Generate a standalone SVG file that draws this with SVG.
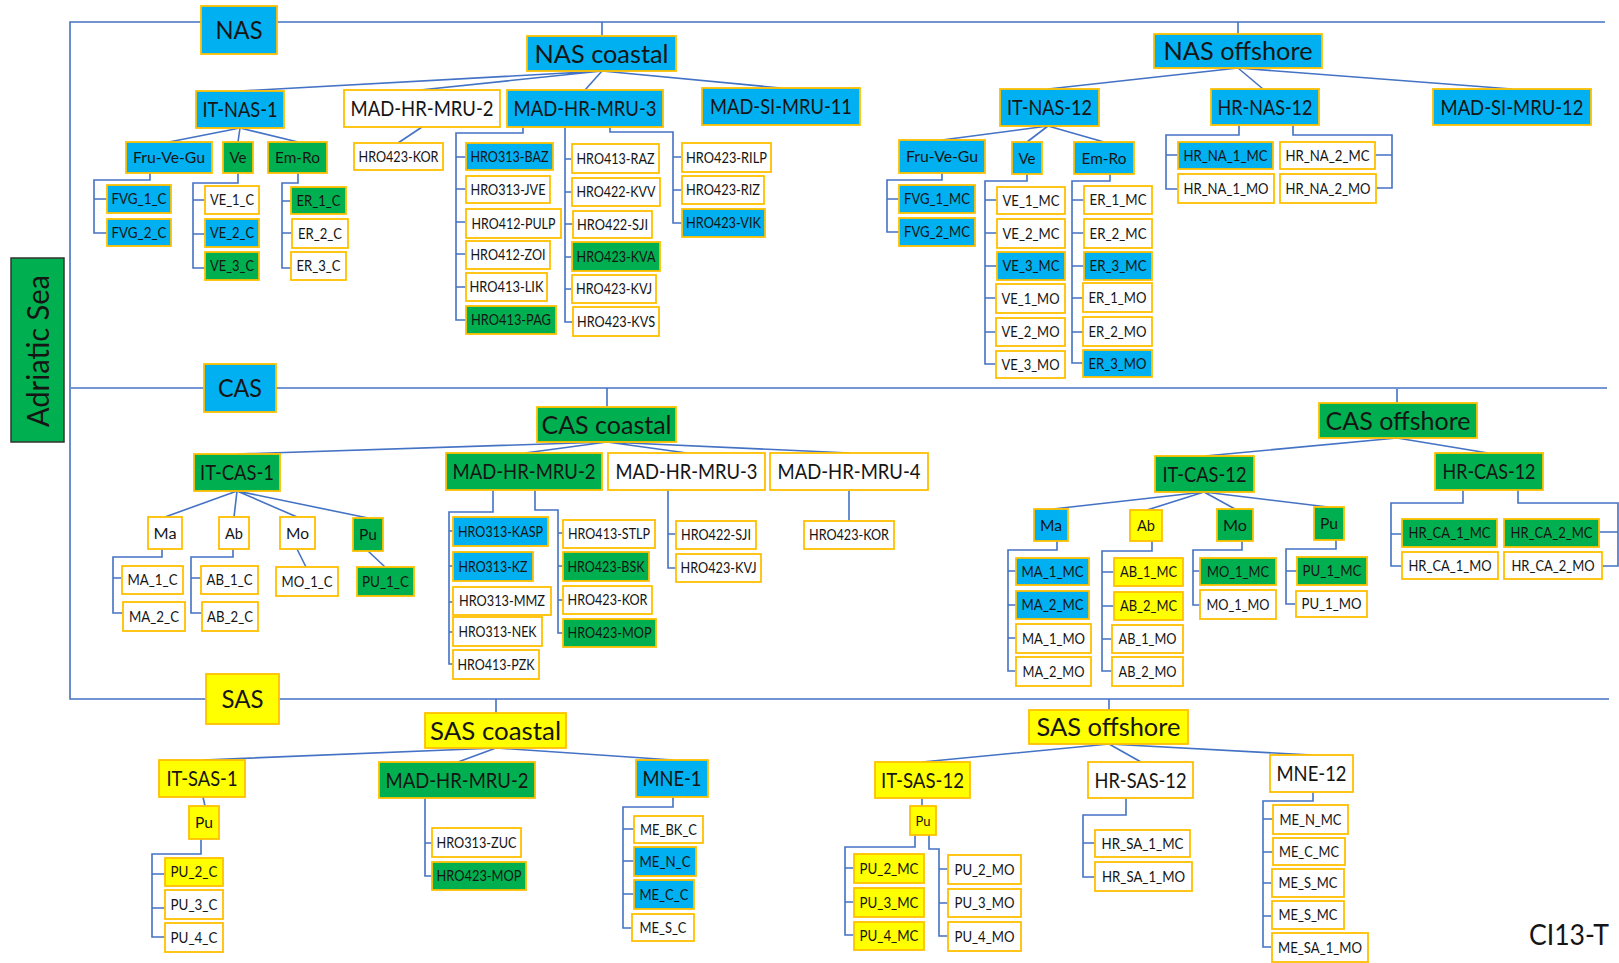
<svg xmlns="http://www.w3.org/2000/svg" width="1619" height="963" viewBox="0 0 1619 963">
<style>
  rect { stroke: #FFC000; stroke-width: 1.8; }
  .b { fill: #00B0F0; }
  .g { fill: #00B050; }
  .y { fill: #FFFF00; }
  .w { fill: #FFFFFF; }
  text { font-family: Lato, "Liberation Sans", sans-serif; fill: #151515; text-anchor: middle; }
  .s1 { font-size: 25px; }
  .s2 { font-size: 21px; }
  .s3 { font-size: 15.5px; }
  .s3s { font-size: 14px; }
  .s4 { font-size: 14.5px; }
  #connectors path, #connectors line { stroke: #4472C4; stroke-width: 1.6; fill: none; }
</style>
<rect x="0" y="0" width="1619" height="963" style="fill:#fff;stroke:none"/>

<g id="connectors">
  <!-- main spine and region bars -->
  <path d="M1605,22 H70 V699 H1609"/>
  <path d="M71,388 H1607"/>
  <!-- region bars to coastal/offshore -->
  <path d="M602,22 V36 M1238,22 V34 M607,388 V407 M1397,389 V403 M496,699 V713 M1109,699 V710"/>
  <!-- NAS coastal fan -->
  <path d="M602,71 L240,91 M602,71 L420,90 M602,71 L585,90 M602,71 L781,88"/>
  <!-- NAS offshore fan -->
  <path d="M1238,68 L1048,89 M1238,68 L1263,89 M1238,68 L1512,89"/>
  <!-- IT-NAS-1 -->
  <path d="M240,128 L169,142 M240,128 L238,142 M240,128 L298,142"/>
  <path d="M150,173 V180 H94 V233 H107 M94,199 H107"/>
  <path d="M238,173 V183 H193 V268 H205 M193,200 H205 M193,234 H205"/>
  <path d="M298,173 V183 H282 V268 H291 M282,201 H291 M282,233 H292"/>
  <!-- MAD-HR-MRU-2 (NAS) -->
  <path d="M422,127 L398,143"/>
  <!-- MAD-HR-MRU-3 (NAS) -->
  <path d="M523,127 V133 H456 V320 H466 M456,157 H466 M456,189 H466 M456,222 H466 M456,254 H466 M456,287 H466"/>
  <path d="M565,127 V322 H573 M565,159 H572 M565,192 H572 M565,224 H573 M565,257 H572 M565,289 H572"/>
  <path d="M610,127 V132 H673 V223 H682 M673,157 H682 M673,190 H682"/>
  <!-- IT-NAS-12 -->
  <path d="M1048,126 L942,140 M1048,126 L1027,142 M1048,126 L1104,142"/>
  <path d="M942,173 V180 H887 V232 H899 M887,199 H899"/>
  <path d="M1027,174 V181 H985 V364 H996 M985,200 H997 M985,233 H997 M985,266 H997 M985,298 H996 M985,332 H996"/>
  <path d="M1110,174 V181 H1072 V363 H1083 M1072,200 H1084 M1072,233 H1084 M1072,266 H1084 M1072,298 H1083 M1072,332 H1083"/>
  <!-- HR-NAS-12 -->
  <path d="M1239,125 V135 H1166 V189 H1178 M1166,155 H1178"/>
  <path d="M1293,125 V135 H1392 V188 H1376 M1392,155 H1375"/>
  <!-- CAS coastal fan -->
  <path d="M607,442 L237,454 M607,442 L525,453 M607,442 L687,453 M607,442 L850,453"/>
  <!-- CAS offshore fan -->
  <path d="M1397,438 L1205,456 M1397,438 L1488,453"/>
  <!-- IT-CAS-1 -->
  <path d="M237,491 L165,517 M237,491 L234,517 M237,491 L297,517 M237,491 L368,518"/>
  <path d="M162,549 V557 H113 V613 H123 M113,578 H122"/>
  <path d="M233,549 V557 H191 V613 H202 M191,578 H201"/>
  <path d="M297,549 L306,567 M368,551 L385,567"/>
  <!-- MAD-HR-MRU-2 (CAS) -->
  <path d="M493,490 V512 H449 V664 H453 M449,531 H453 M449,566 H453 M449,602 H453 M449,632 H453"/>
  <path d="M535,490 V510 H558 V633 H563 M558,533 H563 M558,566 H563 M558,600 H563"/>
  <!-- MAD-HR-MRU-3 / MRU-4 (CAS) -->
  <path d="M668,490 V568 H676 M668,534 H676"/>
  <path d="M849,490 V521"/>
  <!-- IT-CAS-12 -->
  <path d="M1204,492 L1053,509 M1204,492 L1147,510 M1204,492 L1235,509 M1204,492 L1328,507"/>
  <path d="M1057,541 V550 H1008 V671 H1016 M1008,571 H1016 M1008,605 H1016 M1008,638 H1016"/>
  <path d="M1152,541 V551 H1102 V671 H1112 M1102,572 H1114 M1102,606 H1114 M1102,639 H1112"/>
  <path d="M1242,541 V550 H1193 V605 H1200 M1193,571 H1200"/>
  <path d="M1336,540 V549 H1286 V604 H1296 M1286,571 H1297"/>
  <!-- HR-CAS-12 -->
  <path d="M1463,490 V503 H1391 V566 H1402 M1391,534 H1402"/>
  <path d="M1518,490 V503 H1618 V566 H1602 M1618,532 H1599"/>
  <!-- SAS coastal fan -->
  <path d="M496,748 L203,760 M496,748 L458,762 M496,748 L673,760"/>
  <!-- SAS offshore fan -->
  <path d="M1109,744 L922,762 M1109,744 L1141,762 M1109,744 L1312,755"/>
  <!-- IT-SAS-1 -->
  <path d="M203,797 L205,806"/>
  <path d="M201,839 V854 H152 V937 H165 M152,874 H165 M152,908 H165"/>
  <!-- MAD-HR-MRU-2 (SAS) -->
  <path d="M425,798 V876 H432 M425,843 H432"/>
  <!-- MNE-1 -->
  <path d="M673,797 V807 H623 V928 H632 M623,829 H634 M623,861 H634 M623,894 H634"/>
  <!-- IT-SAS-12 -->
  <path d="M922,798 V806"/>
  <path d="M915,835 V847 H845 V935 H854 M845,868 H854 M845,902 H854"/>
  <path d="M929,835 V849 H939 V936 H948 M939,869 H948 M939,903 H948"/>
  <!-- HR-SAS-12 -->
  <path d="M1126,798 V815 H1083 V877 H1095 M1083,843 H1095"/>
  <!-- MNE-12 -->
  <path d="M1313,792 V801 H1263 V947 H1272 M1263,819 H1273 M1263,852 H1273 M1263,883 H1272 M1263,916 H1272"/>
</g>

<!-- root -->
<g id="n-adriatic">
  <rect x="11" y="258" width="53" height="184" style="fill:#00B050;stroke:#333;stroke-width:1.5"/>
  <text class="s1" style="font-size:30px" transform="translate(38,351) rotate(-90)" x="0" y="11" textLength="152" lengthAdjust="spacingAndGlyphs">Adriatic Sea</text>
</g>

<!-- sub-regions -->
<g id="n-nas"><rect class="b" x="201" y="6" width="76" height="48"/><text class="s1" x="239" y="39" textLength="47" lengthAdjust="spacingAndGlyphs">NAS</text></g>
<g id="n-cas"><rect class="b" x="204" y="364" width="72" height="48"/><text class="s1" x="240" y="397" textLength="44" lengthAdjust="spacingAndGlyphs">CAS</text></g>
<g id="n-sas"><rect class="y" x="206" y="674" width="73" height="50"/><text class="s1" x="242.5" y="708" textLength="42" lengthAdjust="spacingAndGlyphs">SAS</text></g>
<g id="n-nas-coastal"><rect class="b" x="527" y="36" width="149" height="35"/><text class="s1" x="601.5" y="62.5" textLength="134" lengthAdjust="spacingAndGlyphs">NAS coastal</text></g>
<g id="n-nas-offshore"><rect class="b" x="1154" y="34" width="168" height="34"/><text class="s1" x="1238" y="60" textLength="149" lengthAdjust="spacingAndGlyphs">NAS offshore</text></g>
<g id="n-cas-coastal"><rect class="g" x="537" y="407" width="139" height="35"/><text class="s1" x="606.5" y="433.5" textLength="130" lengthAdjust="spacingAndGlyphs">CAS coastal</text></g>
<g id="n-cas-offshore"><rect class="g" x="1319" y="403" width="158" height="35"/><text class="s1" x="1398" y="429.5" textLength="145" lengthAdjust="spacingAndGlyphs">CAS offshore</text></g>
<g id="n-sas-coastal"><rect class="y" x="425" y="713" width="141" height="35"/><text class="s1" x="495.5" y="739.5" textLength="131" lengthAdjust="spacingAndGlyphs">SAS coastal</text></g>
<g id="n-sas-offshore"><rect class="y" x="1029" y="710" width="159" height="34"/><text class="s1" x="1108.5" y="736" textLength="144" lengthAdjust="spacingAndGlyphs">SAS offshore</text></g>

<!-- assessment areas -->
<g id="n-it-nas-1"><rect class="b" x="196" y="91" width="88" height="37"/><text class="s2" x="240" y="117" textLength="75" lengthAdjust="spacingAndGlyphs">IT-NAS-1</text></g>
<g id="n-nas-mad-hr-mru-2"><rect class="w" x="344" y="90" width="156" height="37"/><text class="s2" x="422" y="116" textLength="143" lengthAdjust="spacingAndGlyphs">MAD-HR-MRU-2</text></g>
<g id="n-nas-mad-hr-mru-3"><rect class="b" x="507" y="90" width="156" height="37"/><text class="s2" x="585" y="116" textLength="143" lengthAdjust="spacingAndGlyphs">MAD-HR-MRU-3</text></g>
<g id="n-mad-si-mru-11"><rect class="b" x="702" y="88" width="158" height="37"/><text class="s2" x="781" y="114" textLength="142" lengthAdjust="spacingAndGlyphs">MAD-SI-MRU-11</text></g>
<g id="n-it-nas-12"><rect class="b" x="1000" y="89" width="99" height="37"/><text class="s2" x="1049.5" y="115" textLength="85" lengthAdjust="spacingAndGlyphs">IT-NAS-12</text></g>
<g id="n-hr-nas-12"><rect class="b" x="1211" y="89" width="108" height="36"/><text class="s2" x="1265" y="114.5" textLength="95" lengthAdjust="spacingAndGlyphs">HR-NAS-12</text></g>
<g id="n-mad-si-mru-12"><rect class="b" x="1433" y="89" width="158" height="36"/><text class="s2" x="1512" y="114.5" textLength="143" lengthAdjust="spacingAndGlyphs">MAD-SI-MRU-12</text></g>
<g id="n-it-cas-1"><rect class="g" x="194" y="454" width="86" height="37"/><text class="s2" x="237" y="480" textLength="74" lengthAdjust="spacingAndGlyphs">IT-CAS-1</text></g>
<g id="n-cas-mad-hr-mru-2"><rect class="g" x="446" y="453" width="156" height="37"/><text class="s2" x="524" y="479" textLength="143" lengthAdjust="spacingAndGlyphs">MAD-HR-MRU-2</text></g>
<g id="n-cas-mad-hr-mru-3"><rect class="w" x="608" y="453" width="157" height="37"/><text class="s2" x="686.5" y="479" textLength="142" lengthAdjust="spacingAndGlyphs">MAD-HR-MRU-3</text></g>
<g id="n-cas-mad-hr-mru-4"><rect class="w" x="770" y="453" width="158" height="37"/><text class="s2" x="849" y="479" textLength="143" lengthAdjust="spacingAndGlyphs">MAD-HR-MRU-4</text></g>
<g id="n-it-cas-12"><rect class="g" x="1155" y="456" width="99" height="36"/><text class="s2" x="1204.5" y="481.5" textLength="84" lengthAdjust="spacingAndGlyphs">IT-CAS-12</text></g>
<g id="n-hr-cas-12"><rect class="g" x="1435" y="453" width="108" height="37"/><text class="s2" x="1489" y="479" textLength="93" lengthAdjust="spacingAndGlyphs">HR-CAS-12</text></g>
<g id="n-it-sas-1"><rect class="y" x="159" y="760" width="86" height="37"/><text class="s2" x="202" y="786" textLength="71" lengthAdjust="spacingAndGlyphs">IT-SAS-1</text></g>
<g id="n-sas-mad-hr-mru-2"><rect class="g" x="379" y="762" width="156" height="36"/><text class="s2" x="457" y="787.5" textLength="143" lengthAdjust="spacingAndGlyphs">MAD-HR-MRU-2</text></g>
<g id="n-mne-1"><rect class="b" x="636" y="760" width="72" height="37"/><text class="s2" x="672" y="786" textLength="59" lengthAdjust="spacingAndGlyphs">MNE-1</text></g>
<g id="n-it-sas-12"><rect class="y" x="875" y="762" width="95" height="36"/><text class="s2" x="922.5" y="787.5" textLength="83" lengthAdjust="spacingAndGlyphs">IT-SAS-12</text></g>
<g id="n-hr-sas-12"><rect class="w" x="1088" y="762" width="105" height="36"/><text class="s2" x="1140.5" y="787.5" textLength="92" lengthAdjust="spacingAndGlyphs">HR-SAS-12</text></g>
<g id="n-mne-12"><rect class="w" x="1270" y="755" width="83" height="37"/><text class="s2" x="1311.5" y="781" textLength="70" lengthAdjust="spacingAndGlyphs">MNE-12</text></g>

<!-- sub-areas -->
<g id="n-fvg-1"><rect class="b" x="126" y="142" width="86" height="31"/><text class="s3" x="169" y="163" textLength="72" lengthAdjust="spacingAndGlyphs">Fru-Ve-Gu</text></g>
<g id="n-ve-1"><rect class="g" x="223" y="142" width="30" height="31"/><text class="s3" x="238" y="163" textLength="17" lengthAdjust="spacingAndGlyphs">Ve</text></g>
<g id="n-emro-1"><rect class="g" x="268" y="142" width="59" height="31"/><text class="s3" x="297.5" y="163" textLength="45" lengthAdjust="spacingAndGlyphs">Em-Ro</text></g>
<g id="n-fvg-12"><rect class="b" x="899" y="140" width="86" height="33"/><text class="s3" x="942" y="162" textLength="72" lengthAdjust="spacingAndGlyphs">Fru-Ve-Gu</text></g>
<g id="n-ve-12"><rect class="b" x="1012" y="142" width="30" height="32"/><text class="s3" x="1027" y="163.5" textLength="17" lengthAdjust="spacingAndGlyphs">Ve</text></g>
<g id="n-emro-12"><rect class="b" x="1074" y="142" width="60" height="32"/><text class="s3" x="1104" y="163.5" textLength="45" lengthAdjust="spacingAndGlyphs">Em-Ro</text></g>
<g id="n-ma-1"><rect class="w" x="148" y="517" width="34" height="32"/><text class="s3" x="165" y="538.5" textLength="23" lengthAdjust="spacingAndGlyphs">Ma</text></g>
<g id="n-ab-1"><rect class="w" x="219" y="517" width="30" height="32"/><text class="s3" x="234" y="538.5" textLength="18" lengthAdjust="spacingAndGlyphs">Ab</text></g>
<g id="n-mo-1"><rect class="w" x="280" y="517" width="35" height="32"/><text class="s3" x="297.5" y="538.5" textLength="23" lengthAdjust="spacingAndGlyphs">Mo</text></g>
<g id="n-pu-cas-1"><rect class="g" x="353" y="518" width="30" height="33"/><text class="s3" x="368" y="540" textLength="18" lengthAdjust="spacingAndGlyphs">Pu</text></g>
<g id="n-ma-12"><rect class="b" x="1034" y="509" width="34" height="32"/><text class="s3" x="1051" y="530.5" textLength="22" lengthAdjust="spacingAndGlyphs">Ma</text></g>
<g id="n-ab-12"><rect class="y" x="1130" y="510" width="32" height="31"/><text class="s3" x="1146" y="531" textLength="18" lengthAdjust="spacingAndGlyphs">Ab</text></g>
<g id="n-mo-12"><rect class="g" x="1217" y="509" width="36" height="32"/><text class="s3" x="1235" y="530.5" textLength="24" lengthAdjust="spacingAndGlyphs">Mo</text></g>
<g id="n-pu-cas-12"><rect class="g" x="1314" y="507" width="30" height="33"/><text class="s3" x="1329" y="529" textLength="18" lengthAdjust="spacingAndGlyphs">Pu</text></g>
<g id="n-pu-sas-1"><rect class="y" x="189" y="806" width="30" height="33"/><text class="s3" x="204" y="828" textLength="18" lengthAdjust="spacingAndGlyphs">Pu</text></g>
<g id="n-pu-sas-12"><rect class="y" x="910" y="806" width="26" height="29"/><text class="s3s" x="923" y="825.5" textLength="15" lengthAdjust="spacingAndGlyphs">Pu</text></g>

<!-- NAS coastal units -->
<g id="n-fvg_1_c"><rect class="b" x="107" y="185" width="64" height="28"/><text class="s4" x="139" y="204.2" textLength="55" lengthAdjust="spacingAndGlyphs">FVG_1_C</text></g>
<g id="n-fvg_2_c"><rect class="b" x="107" y="219" width="64" height="27"/><text class="s4" x="139" y="237.7" textLength="55" lengthAdjust="spacingAndGlyphs">FVG_2_C</text></g>
<g id="n-ve_1_c"><rect class="w" x="205" y="186" width="54" height="28"/><text class="s4" x="232" y="205.2" textLength="44" lengthAdjust="spacingAndGlyphs">VE_1_C</text></g>
<g id="n-ve_2_c"><rect class="b" x="205" y="219" width="54" height="28"/><text class="s4" x="232" y="238.2" textLength="44" lengthAdjust="spacingAndGlyphs">VE_2_C</text></g>
<g id="n-ve_3_c"><rect class="g" x="205" y="252" width="54" height="28"/><text class="s4" x="232" y="271.2" textLength="44" lengthAdjust="spacingAndGlyphs">VE_3_C</text></g>
<g id="n-er_1_c"><rect class="g" x="291" y="187" width="55" height="27"/><text class="s4" x="318.5" y="205.7" textLength="44" lengthAdjust="spacingAndGlyphs">ER_1_C</text></g>
<g id="n-er_2_c"><rect class="w" x="292" y="219" width="56" height="29"/><text class="s4" x="320" y="238.7" textLength="44" lengthAdjust="spacingAndGlyphs">ER_2_C</text></g>
<g id="n-er_3_c"><rect class="w" x="291" y="252" width="55" height="28"/><text class="s4" x="318.5" y="271.2" textLength="44" lengthAdjust="spacingAndGlyphs">ER_3_C</text></g>
<g id="n-nas-hro423-kor"><rect class="w" x="354" y="143" width="89" height="27"/><text class="s4" x="398.5" y="161.7" textLength="80" lengthAdjust="spacingAndGlyphs">HRO423-KOR</text></g>
<g id="n-hro313-baz"><rect class="b" x="466" y="143" width="87" height="27"/><text class="s4" x="509.5" y="161.7" textLength="78" lengthAdjust="spacingAndGlyphs">HRO313-BAZ</text></g>
<g id="n-hro313-jve"><rect class="w" x="466" y="176" width="84" height="27"/><text class="s4" x="508" y="194.7" textLength="75" lengthAdjust="spacingAndGlyphs">HRO313-JVE</text></g>
<g id="n-hro412-pulp"><rect class="w" x="466" y="209" width="95" height="29"/><text class="s4" x="513.5" y="228.7" textLength="84" lengthAdjust="spacingAndGlyphs">HRO412-PULP</text></g>
<g id="n-hro412-zoi"><rect class="w" x="466" y="241" width="84" height="28"/><text class="s4" x="508" y="260.2" textLength="75" lengthAdjust="spacingAndGlyphs">HRO412-ZOI</text></g>
<g id="n-hro413-lik"><rect class="w" x="466" y="273" width="81" height="28"/><text class="s4" x="506.5" y="292.2" textLength="74" lengthAdjust="spacingAndGlyphs">HRO413-LIK</text></g>
<g id="n-hro413-pag"><rect class="g" x="466" y="306" width="90" height="28"/><text class="s4" x="511" y="325.2" textLength="80" lengthAdjust="spacingAndGlyphs">HRO413-PAG</text></g>
<g id="n-hro413-raz"><rect class="w" x="572" y="144" width="87" height="29"/><text class="s4" x="615.5" y="163.7" textLength="78" lengthAdjust="spacingAndGlyphs">HRO413-RAZ</text></g>
<g id="n-hro422-kvv"><rect class="w" x="572" y="178" width="88" height="28"/><text class="s4" x="616" y="197.2" textLength="79" lengthAdjust="spacingAndGlyphs">HRO422-KVV</text></g>
<g id="n-nas-hro422-sji"><rect class="w" x="573" y="211" width="79" height="27"/><text class="s4" x="612.5" y="229.7" textLength="71" lengthAdjust="spacingAndGlyphs">HRO422-SJI</text></g>
<g id="n-hro423-kva"><rect class="g" x="572" y="242" width="88" height="29"/><text class="s4" x="616" y="261.7" textLength="79" lengthAdjust="spacingAndGlyphs">HRO423-KVA</text></g>
<g id="n-nas-hro423-kvj"><rect class="w" x="572" y="275" width="84" height="28"/><text class="s4" x="614" y="294.2" textLength="76" lengthAdjust="spacingAndGlyphs">HRO423-KVJ</text></g>
<g id="n-hro423-kvs"><rect class="w" x="573" y="307" width="86" height="29"/><text class="s4" x="616" y="326.7" textLength="78" lengthAdjust="spacingAndGlyphs">HRO423-KVS</text></g>
<g id="n-hro423-rilp"><rect class="w" x="682" y="143" width="89" height="29"/><text class="s4" x="726.5" y="162.7" textLength="81" lengthAdjust="spacingAndGlyphs">HRO423-RILP</text></g>
<g id="n-hro423-riz"><rect class="w" x="682" y="176" width="82" height="28"/><text class="s4" x="723" y="195.2" textLength="74" lengthAdjust="spacingAndGlyphs">HRO423-RIZ</text></g>
<g id="n-hro423-vik"><rect class="b" x="682" y="209" width="83" height="28"/><text class="s4" x="723.5" y="228.2" textLength="75" lengthAdjust="spacingAndGlyphs">HRO423-VIK</text></g>

<!-- NAS offshore units -->
<g id="n-fvg_1_mc"><rect class="b" x="899" y="185" width="76" height="28"/><text class="s4" x="937" y="204.2" textLength="66" lengthAdjust="spacingAndGlyphs">FVG_1_MC</text></g>
<g id="n-fvg_2_mc"><rect class="b" x="899" y="218" width="76" height="28"/><text class="s4" x="937" y="237.2" textLength="66" lengthAdjust="spacingAndGlyphs">FVG_2_MC</text></g>
<g id="n-ve_1_mc"><rect class="w" x="997" y="187" width="68" height="27"/><text class="s4" x="1031" y="205.7" textLength="57" lengthAdjust="spacingAndGlyphs">VE_1_MC</text></g>
<g id="n-ve_2_mc"><rect class="w" x="997" y="219" width="68" height="29"/><text class="s4" x="1031" y="238.7" textLength="57" lengthAdjust="spacingAndGlyphs">VE_2_MC</text></g>
<g id="n-ve_3_mc"><rect class="b" x="997" y="252" width="68" height="28"/><text class="s4" x="1031" y="271.2" textLength="57" lengthAdjust="spacingAndGlyphs">VE_3_MC</text></g>
<g id="n-ve_1_mo"><rect class="w" x="996" y="284" width="69" height="29"/><text class="s4" x="1030.5" y="303.7" textLength="58" lengthAdjust="spacingAndGlyphs">VE_1_MO</text></g>
<g id="n-ve_2_mo"><rect class="w" x="996" y="318" width="69" height="28"/><text class="s4" x="1030.5" y="337.2" textLength="58" lengthAdjust="spacingAndGlyphs">VE_2_MO</text></g>
<g id="n-ve_3_mo"><rect class="w" x="996" y="351" width="69" height="27"/><text class="s4" x="1030.5" y="369.7" textLength="58" lengthAdjust="spacingAndGlyphs">VE_3_MO</text></g>
<g id="n-er_1_mc"><rect class="w" x="1084" y="186" width="68" height="28"/><text class="s4" x="1118" y="205.2" textLength="57" lengthAdjust="spacingAndGlyphs">ER_1_MC</text></g>
<g id="n-er_2_mc"><rect class="w" x="1084" y="219" width="68" height="29"/><text class="s4" x="1118" y="238.7" textLength="57" lengthAdjust="spacingAndGlyphs">ER_2_MC</text></g>
<g id="n-er_3_mc"><rect class="b" x="1084" y="252" width="68" height="28"/><text class="s4" x="1118" y="271.2" textLength="57" lengthAdjust="spacingAndGlyphs">ER_3_MC</text></g>
<g id="n-er_1_mo"><rect class="w" x="1083" y="283" width="69" height="29"/><text class="s4" x="1117.5" y="302.7" textLength="58" lengthAdjust="spacingAndGlyphs">ER_1_MO</text></g>
<g id="n-er_2_mo"><rect class="w" x="1083" y="317" width="69" height="29"/><text class="s4" x="1117.5" y="336.7" textLength="58" lengthAdjust="spacingAndGlyphs">ER_2_MO</text></g>
<g id="n-er_3_mo"><rect class="b" x="1083" y="350" width="69" height="27"/><text class="s4" x="1117.5" y="368.7" textLength="58" lengthAdjust="spacingAndGlyphs">ER_3_MO</text></g>
<g id="n-hr_na_1_mc"><rect class="b" x="1178" y="142" width="95" height="27"/><text class="s4" x="1225.5" y="160.7" textLength="84" lengthAdjust="spacingAndGlyphs">HR_NA_1_MC</text></g>
<g id="n-hr_na_1_mo"><rect class="w" x="1178" y="174" width="96" height="29"/><text class="s4" x="1226" y="193.7" textLength="85" lengthAdjust="spacingAndGlyphs">HR_NA_1_MO</text></g>
<g id="n-hr_na_2_mc"><rect class="w" x="1280" y="142" width="95" height="27"/><text class="s4" x="1327.5" y="160.7" textLength="84" lengthAdjust="spacingAndGlyphs">HR_NA_2_MC</text></g>
<g id="n-hr_na_2_mo"><rect class="w" x="1280" y="174" width="96" height="29"/><text class="s4" x="1328" y="193.7" textLength="85" lengthAdjust="spacingAndGlyphs">HR_NA_2_MO</text></g>

<!-- CAS coastal units -->
<g id="n-ma_1_c"><rect class="w" x="122" y="566" width="61" height="28"/><text class="s4" x="152.5" y="585.2" textLength="50" lengthAdjust="spacingAndGlyphs">MA_1_C</text></g>
<g id="n-ma_2_c"><rect class="w" x="123" y="602" width="62" height="29"/><text class="s4" x="154" y="621.7" textLength="50" lengthAdjust="spacingAndGlyphs">MA_2_C</text></g>
<g id="n-ab_1_c"><rect class="w" x="201" y="566" width="57" height="28"/><text class="s4" x="229.5" y="585.2" textLength="46" lengthAdjust="spacingAndGlyphs">AB_1_C</text></g>
<g id="n-ab_2_c"><rect class="w" x="202" y="602" width="56" height="29"/><text class="s4" x="230" y="621.7" textLength="46" lengthAdjust="spacingAndGlyphs">AB_2_C</text></g>
<g id="n-mo_1_c"><rect class="w" x="276" y="567" width="62" height="29"/><text class="s4" x="307" y="586.7" textLength="51" lengthAdjust="spacingAndGlyphs">MO_1_C</text></g>
<g id="n-pu_1_c"><rect class="g" x="357" y="567" width="57" height="29"/><text class="s4" x="385.5" y="586.7" textLength="47" lengthAdjust="spacingAndGlyphs">PU_1_C</text></g>
<g id="n-hro313-kasp"><rect class="b" x="453" y="517" width="95" height="29"/><text class="s4" x="500.5" y="536.7" textLength="85" lengthAdjust="spacingAndGlyphs">HRO313-KASP</text></g>
<g id="n-hro313-kz"><rect class="b" x="453" y="552" width="80" height="29"/><text class="s4" x="493" y="571.7" textLength="69" lengthAdjust="spacingAndGlyphs">HRO313-KZ</text></g>
<g id="n-hro313-mmz"><rect class="w" x="453" y="587" width="98" height="28"/><text class="s4" x="502" y="606.2" textLength="86" lengthAdjust="spacingAndGlyphs">HRO313-MMZ</text></g>
<g id="n-hro313-nek"><rect class="w" x="453" y="617" width="89" height="29"/><text class="s4" x="497.5" y="636.7" textLength="78" lengthAdjust="spacingAndGlyphs">HRO313-NEK</text></g>
<g id="n-hro413-pzk"><rect class="w" x="453" y="650" width="86" height="29"/><text class="s4" x="496" y="669.7" textLength="77" lengthAdjust="spacingAndGlyphs">HRO413-PZK</text></g>
<g id="n-hro413-stlp"><rect class="w" x="563" y="520" width="92" height="28"/><text class="s4" x="609" y="539.2" textLength="82" lengthAdjust="spacingAndGlyphs">HRO413-STLP</text></g>
<g id="n-hro423-bsk"><rect class="g" x="563" y="552" width="86" height="29"/><text class="s4" x="606" y="571.7" textLength="77" lengthAdjust="spacingAndGlyphs">HRO423-BSK</text></g>
<g id="n-cas-hro423-kor-a"><rect class="w" x="563" y="586" width="89" height="28"/><text class="s4" x="607.5" y="605.2" textLength="80" lengthAdjust="spacingAndGlyphs">HRO423-KOR</text></g>
<g id="n-cas-hro423-mop"><rect class="g" x="563" y="619" width="93" height="28"/><text class="s4" x="609.5" y="638.2" textLength="84" lengthAdjust="spacingAndGlyphs">HRO423-MOP</text></g>
<g id="n-cas-hro422-sji"><rect class="w" x="676" y="521" width="80" height="28"/><text class="s4" x="716" y="540.2" textLength="70" lengthAdjust="spacingAndGlyphs">HRO422-SJI</text></g>
<g id="n-cas-hro423-kvj"><rect class="w" x="676" y="554" width="85" height="28"/><text class="s4" x="718.5" y="573.2" textLength="76" lengthAdjust="spacingAndGlyphs">HRO423-KVJ</text></g>
<g id="n-cas-hro423-kor-b"><rect class="w" x="804" y="521" width="90" height="28"/><text class="s4" x="849" y="540.2" textLength="80" lengthAdjust="spacingAndGlyphs">HRO423-KOR</text></g>

<!-- CAS offshore units -->
<g id="n-ma_1_mc"><rect class="b" x="1016" y="558" width="73" height="27"/><text class="s4" x="1052.5" y="576.7" textLength="62" lengthAdjust="spacingAndGlyphs">MA_1_MC</text></g>
<g id="n-ma_2_mc"><rect class="b" x="1016" y="591" width="73" height="28"/><text class="s4" x="1052.5" y="610.2" textLength="62" lengthAdjust="spacingAndGlyphs">MA_2_MC</text></g>
<g id="n-ma_1_mo"><rect class="w" x="1016" y="624" width="75" height="29"/><text class="s4" x="1053.5" y="643.7" textLength="63" lengthAdjust="spacingAndGlyphs">MA_1_MO</text></g>
<g id="n-ma_2_mo"><rect class="w" x="1016" y="657" width="75" height="29"/><text class="s4" x="1053.5" y="676.7" textLength="62" lengthAdjust="spacingAndGlyphs">MA_2_MO</text></g>
<g id="n-ab_1_mc"><rect class="y" x="1114" y="558" width="69" height="28"/><text class="s4" x="1148.5" y="577.2" textLength="57" lengthAdjust="spacingAndGlyphs">AB_1_MC</text></g>
<g id="n-ab_2_mc"><rect class="y" x="1114" y="592" width="69" height="28"/><text class="s4" x="1148.5" y="611.2" textLength="57" lengthAdjust="spacingAndGlyphs">AB_2_MC</text></g>
<g id="n-ab_1_mo"><rect class="w" x="1112" y="625" width="71" height="28"/><text class="s4" x="1147.5" y="644.2" textLength="58" lengthAdjust="spacingAndGlyphs">AB_1_MO</text></g>
<g id="n-ab_2_mo"><rect class="w" x="1112" y="657" width="71" height="29"/><text class="s4" x="1147.5" y="676.7" textLength="58" lengthAdjust="spacingAndGlyphs">AB_2_MO</text></g>
<g id="n-mo_1_mc"><rect class="g" x="1200" y="558" width="76" height="27"/><text class="s4" x="1238" y="576.7" textLength="62" lengthAdjust="spacingAndGlyphs">MO_1_MC</text></g>
<g id="n-mo_1_mo"><rect class="w" x="1200" y="590" width="76" height="29"/><text class="s4" x="1238" y="609.7" textLength="63" lengthAdjust="spacingAndGlyphs">MO_1_MO</text></g>
<g id="n-pu_1_mc"><rect class="g" x="1297" y="557" width="70" height="28"/><text class="s4" x="1332" y="576.2" textLength="59" lengthAdjust="spacingAndGlyphs">PU_1_MC</text></g>
<g id="n-pu_1_mo"><rect class="w" x="1296" y="591" width="71" height="26"/><text class="s4" x="1331.5" y="609.2" textLength="60" lengthAdjust="spacingAndGlyphs">PU_1_MO</text></g>
<g id="n-hr_ca_1_mc"><rect class="g" x="1402" y="519" width="95" height="28"/><text class="s4" x="1449.5" y="538.2" textLength="82" lengthAdjust="spacingAndGlyphs">HR_CA_1_MC</text></g>
<g id="n-hr_ca_1_mo"><rect class="w" x="1402" y="552" width="96" height="27"/><text class="s4" x="1450" y="570.7" textLength="83" lengthAdjust="spacingAndGlyphs">HR_CA_1_MO</text></g>
<g id="n-hr_ca_2_mc"><rect class="g" x="1504" y="519" width="95" height="28"/><text class="s4" x="1551.5" y="538.2" textLength="82" lengthAdjust="spacingAndGlyphs">HR_CA_2_MC</text></g>
<g id="n-hr_ca_2_mo"><rect class="w" x="1504" y="552" width="98" height="27"/><text class="s4" x="1553" y="570.7" textLength="83" lengthAdjust="spacingAndGlyphs">HR_CA_2_MO</text></g>

<!-- SAS coastal units -->
<g id="n-pu_2_c"><rect class="y" x="165" y="858" width="58" height="28"/><text class="s4" x="194" y="877.2" textLength="47" lengthAdjust="spacingAndGlyphs">PU_2_C</text></g>
<g id="n-pu_3_c"><rect class="w" x="165" y="890" width="58" height="29"/><text class="s4" x="194" y="909.7" textLength="47" lengthAdjust="spacingAndGlyphs">PU_3_C</text></g>
<g id="n-pu_4_c"><rect class="w" x="165" y="923" width="58" height="29"/><text class="s4" x="194" y="942.7" textLength="47" lengthAdjust="spacingAndGlyphs">PU_4_C</text></g>
<g id="n-hro313-zuc"><rect class="w" x="432" y="828" width="89" height="29"/><text class="s4" x="476.5" y="847.7" textLength="80" lengthAdjust="spacingAndGlyphs">HRO313-ZUC</text></g>
<g id="n-sas-hro423-mop"><rect class="g" x="432" y="862" width="94" height="28"/><text class="s4" x="479" y="881.2" textLength="85" lengthAdjust="spacingAndGlyphs">HRO423-MOP</text></g>
<g id="n-me_bk_c"><rect class="w" x="634" y="816" width="69" height="27"/><text class="s4" x="668.5" y="834.7" textLength="57" lengthAdjust="spacingAndGlyphs">ME_BK_C</text></g>
<g id="n-me_n_c"><rect class="b" x="634" y="847" width="62" height="29"/><text class="s4" x="665" y="866.7" textLength="51" lengthAdjust="spacingAndGlyphs">ME_N_C</text></g>
<g id="n-me_c_c"><rect class="b" x="634" y="880" width="60" height="29"/><text class="s4" x="664" y="899.7" textLength="49" lengthAdjust="spacingAndGlyphs">ME_C_C</text></g>
<g id="n-me_s_c"><rect class="w" x="632" y="914" width="62" height="27"/><text class="s4" x="663" y="932.7" textLength="47" lengthAdjust="spacingAndGlyphs">ME_S_C</text></g>

<!-- SAS offshore units -->
<g id="n-pu_2_mc"><rect class="y" x="854" y="854" width="70" height="29"/><text class="s4" x="889" y="873.7" textLength="59" lengthAdjust="spacingAndGlyphs">PU_2_MC</text></g>
<g id="n-pu_3_mc"><rect class="y" x="854" y="888" width="70" height="29"/><text class="s4" x="889" y="907.7" textLength="59" lengthAdjust="spacingAndGlyphs">PU_3_MC</text></g>
<g id="n-pu_4_mc"><rect class="y" x="854" y="922" width="70" height="28"/><text class="s4" x="889" y="941.2" textLength="59" lengthAdjust="spacingAndGlyphs">PU_4_MC</text></g>
<g id="n-pu_2_mo"><rect class="w" x="948" y="855" width="73" height="29"/><text class="s4" x="984.5" y="874.7" textLength="60" lengthAdjust="spacingAndGlyphs">PU_2_MO</text></g>
<g id="n-pu_3_mo"><rect class="w" x="948" y="889" width="73" height="28"/><text class="s4" x="984.5" y="908.2" textLength="60" lengthAdjust="spacingAndGlyphs">PU_3_MO</text></g>
<g id="n-pu_4_mo"><rect class="w" x="948" y="922" width="73" height="29"/><text class="s4" x="984.5" y="941.7" textLength="60" lengthAdjust="spacingAndGlyphs">PU_4_MO</text></g>
<g id="n-hr_sa_1_mc"><rect class="w" x="1095" y="830" width="95" height="27"/><text class="s4" x="1142.5" y="848.7" textLength="82" lengthAdjust="spacingAndGlyphs">HR_SA_1_MC</text></g>
<g id="n-hr_sa_1_mo"><rect class="w" x="1095" y="862" width="97" height="29"/><text class="s4" x="1143.5" y="881.7" textLength="83" lengthAdjust="spacingAndGlyphs">HR_SA_1_MO</text></g>
<g id="n-me_n_mc"><rect class="w" x="1273" y="805" width="75" height="29"/><text class="s4" x="1310.5" y="824.7" textLength="62" lengthAdjust="spacingAndGlyphs">ME_N_MC</text></g>
<g id="n-me_c_mc"><rect class="w" x="1273" y="838" width="72" height="27"/><text class="s4" x="1309" y="856.7" textLength="60" lengthAdjust="spacingAndGlyphs">ME_C_MC</text></g>
<g id="n-me_s_mc-a"><rect class="w" x="1272" y="869" width="72" height="28"/><text class="s4" x="1308" y="888.2" textLength="59" lengthAdjust="spacingAndGlyphs">ME_S_MC</text></g>
<g id="n-me_s_mc-b"><rect class="w" x="1272" y="901" width="72" height="28"/><text class="s4" x="1308" y="920.2" textLength="59" lengthAdjust="spacingAndGlyphs">ME_S_MC</text></g>
<g id="n-me_sa_1_mo"><rect class="w" x="1272" y="933" width="96" height="29"/><text class="s4" x="1320" y="952.7" textLength="84" lengthAdjust="spacingAndGlyphs">ME_SA_1_MO</text></g>

<!-- figure tag -->
<g id="n-tag"><text x="1529" y="945" style="font-size:28px;text-anchor:start" textLength="80" lengthAdjust="spacingAndGlyphs">CI13-T</text></g>
</svg>
